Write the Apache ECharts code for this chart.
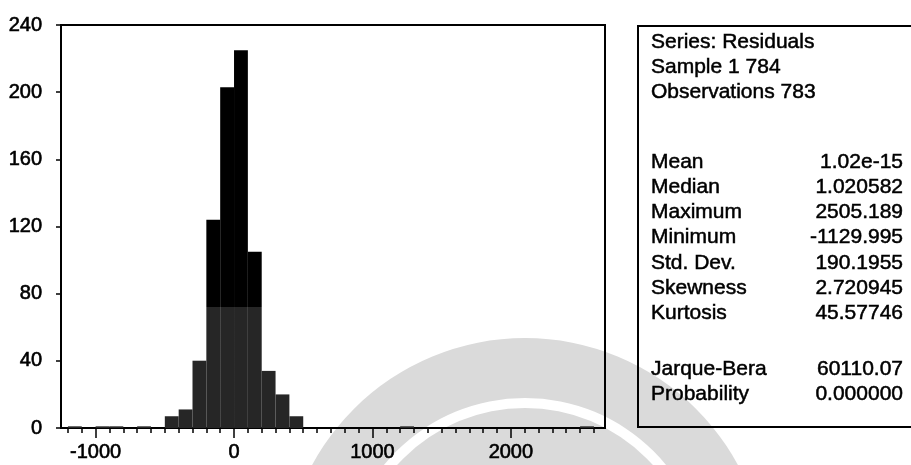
<!DOCTYPE html>
<html>
<head>
    <meta charset="utf-8" />
    <title>Residuals histogram</title>
    <script src="https://cdn.jsdelivr.net/npm/echarts@6/dist/echarts.min.js"></script>
    <style>
        html, body { margin: 0; padding: 0; background: #ffffff; }
        #chart { width: 911px; height: 465px; }
    </style>
</head>
<body>
<div id="chart"></div>
<script type="text/javascript">
    // histogram bins (lower edge, upper edge) and counts
    var binLow  = [-1200, -1000, -900, -700, -500, -400, -300, -200, -100, 0, 100, 200, 300, 400, 1200, 2500];
    var binHigh = [-1100, -900, -800, -600, -400, -300, -200, -100, 0, 100, 200, 300, 400, 500, 1300, 2600];
    var counts  = [1, 1, 1, 1, 7, 11, 40, 124, 203, 225, 105, 34, 20, 7, 1, 1];

    // axis ticks
    var yTicks = [0, 40, 80, 120, 160, 200, 240];
    var xMajorTicks = [-1000, 0, 1000, 2000];
    var xMinorTicks = [-1200, -1100, -1000, -900, -800, -700, -600, -500, -400, -300, -200, -100,
        0, 100, 200, 300, 400, 500, 600, 700, 800, 900, 1000, 1100, 1200, 1300, 1400, 1500,
        1600, 1700, 1800, 1900, 2000, 2100, 2200, 2300, 2400, 2500, 2600];

    // statistics panel
    var headerLines = ['Series: Residuals', 'Sample 1 784', 'Observations 783'];
    var statNames  = ['Mean', 'Median', 'Maximum', 'Minimum', 'Std. Dev.', 'Skewness', 'Kurtosis', '', 'Jarque-Bera', 'Probability'];
    var statValues = ['1.02e-15', '1.020582', '2505.189', '-1129.995', '190.1955', '2.720945', '45.57746', '', '60110.07', '0.000000'];

    var FONT = '"Liberation Sans", Arial, sans-serif';
    var shadeLevel = 72;   // scan: bars look lighter below this count

    var barData = [];
    for (var i = 0; i < counts.length; i++) {
        barData.push([binLow[i], binHigh[i], counts[i]]);
    }

    // stats panel texts
    var panel = [];
    panel.push({
        type: 'rect', z: 10,
        shape: { x: 638, y: 26, width: 320, height: 401 },
        style: { fill: 'transparent', stroke: '#000', lineWidth: 2 }
    });
    function panelText(txt, x, y, align) {
        return {
            type: 'text', z: 10,
            style: { text: txt, x: x, y: y, font: '21px ' + FONT, fill: '#000',
                align: align, verticalAlign: 'middle',
                stroke: '#000', lineWidth: 0.5 }
        };
    }
    for (var h = 0; h < headerLines.length; h++) {
        panel.push(panelText(headerLines[h], 651, 42 + h * 25, 'left'));
    }
    for (var s = 0; s < statNames.length; s++) {
        if (!statNames[s]) continue;
        var rowY = s < 7 ? 162 + s * 25.2 : 369 + (s - 8) * 25;
        panel.push(panelText(statNames[s], 651, rowY, 'left'));
        panel.push(panelText(statValues[s], 903, rowY, 'right'));
    }

    // faint watermark from the scanned page
    var watermark = [
        { type: 'sector', z: -5, silent: true,
          shape: { cx: 525, cy: 580, r: 242, r0: 182, startAngle: Math.PI, endAngle: 2 * Math.PI },
          style: { fill: '#dadada' } },
        { type: 'sector', z: -5, silent: true,
          shape: { cx: 525, cy: 580, r: 172, r0: 0, startAngle: Math.PI, endAngle: 2 * Math.PI },
          style: { fill: '#dadada' } }
    ];

    var labelStyle = { fontSize: 20, fontFamily: FONT, color: '#000',
        textBorderColor: '#000', textBorderWidth: 0.6 };

    var myChart = echarts.init(document.getElementById('chart'), null, { renderer: 'canvas' });
    var option = {
        animation: false,
        backgroundColor: '#ffffff',
        grid: {
            left: 61, right: 306, top: 25, bottom: 37,
            show: true, borderColor: '#000', borderWidth: 2, backgroundColor: 'transparent'
        },
        graphic: { elements: watermark.concat(panel) },
        xAxis: [
            {
                type: 'value', min: -1250, max: 2680, position: 'bottom',
                splitLine: { show: false },
                axisLine: { show: true, onZero: false, lineStyle: { color: '#000', width: 2 } },
                axisTick: { show: true, customValues: xMinorTicks, length: 5, lineStyle: { color: '#000', width: 1.5 } },
                axisLabel: { show: false }
            },
            {
                type: 'value', min: -1250, max: 2680, position: 'bottom',
                splitLine: { show: false },
                axisLine: { show: false, onZero: false },
                axisTick: { show: true, customValues: xMajorTicks, length: 10, lineStyle: { color: '#000', width: 1.5 } },
                axisLabel: Object.assign({ show: true, customValues: xMajorTicks, margin: 14,
                    formatter: function (v) { return String(v); } }, labelStyle)
            }
        ],
        yAxis: {
            type: 'value', min: 0, max: 240, interval: 40,
            splitLine: { show: false },
            axisLine: { show: true, onZero: false, lineStyle: { color: '#000', width: 2 } },
            axisTick: { show: true, length: 5, lineStyle: { color: '#000', width: 1.5 } },
            axisLabel: Object.assign({ margin: 19,
                formatter: function (v) { return yTicks.indexOf(v) >= 0 ? String(v) : ''; } }, labelStyle)
        },
        series: [
            {
                type: 'custom',
                xAxisIndex: 0,
                yAxisIndex: 0,
                encode: { x: [0, 1], y: 2 },
                data: barData,
                renderItem: function (params, api) {
                    var p0 = api.coord([api.value(0), api.value(2)]);
                    var p1 = api.coord([api.value(1), 0]);
                    var hgt = p1[1] - p0[1];
                    var split = api.coord([0, shadeLevel])[1];
                    var t = Math.max(0, Math.min(1, (split - p0[1]) / hgt));
                    return {
                        type: 'rect',
                        shape: { x: p0[0], y: p0[1], width: p1[0] - p0[0], height: hgt },
                        style: {
                            fill: {
                                type: 'linear', x: 0, y: 0, x2: 0, y2: 1, global: false,
                                colorStops: [
                                    { offset: 0, color: '#000000' },
                                    { offset: t, color: '#000000' },
                                    { offset: t, color: '#262626' },
                                    { offset: 1, color: '#262626' }
                                ]
                            }
                        }
                    };
                }
            }
        ]
    };
    myChart.setOption(option);
</script>
</body>
</html>
